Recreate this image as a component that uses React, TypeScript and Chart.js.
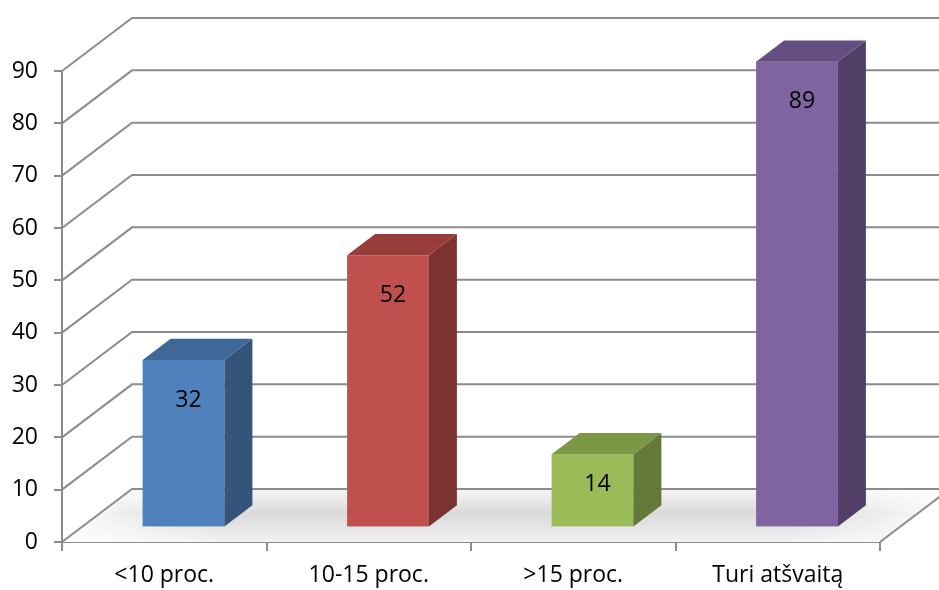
import React, { useEffect, useRef } from "react";
import { Chart, registerables } from "chart.js";
Chart.register(...registerables);

const categories = ["<10 proc.", "10-15 proc.", ">15 proc.", "Turi atšvaitą"];
const values = [32, 52, 14, 89];
const frontColors = ["#4F81BD", "#C0504D", "#9BBB59", "#8064A2"];
const topColors = ["#3F6898", "#973E3B", "#7C9847", "#654E82"];
const sideColors = ["#34547A", "#7B3230", "#64793A", "#513F68"];
const yMin = 0;
const yMax = 90;
const yStep = 10;

const DX = 70;
const DY = -53;
const BAR_FRONT = 0.275;
const BAR_DEPTH = 0.4;
const FONT = "'Open Sans', 'Noto Sans', sans-serif";
const FONT_SIZE = 23;
const GRID = "#8c8c8c";

const threeD = {
  id: "threeD",
  beforeDatasetsDraw(chart: any) {
    const { ctx, chartArea, scales } = chart;
    const y = scales.y;
    const L = chartArea.left;
    const R = chartArea.right;
    const y0 = y.getPixelForValue(0);
    ctx.save();
    const g = ctx.createLinearGradient(0, y0 + DY, 0, y0);
    g.addColorStop(0, "#f6f6f6");
    g.addColorStop(0.45, "#dadada");
    g.addColorStop(0.8, "#e8e8e8");
    g.addColorStop(1, "#f4f4f4");
    ctx.fillStyle = g;
    ctx.beginPath();
    ctx.moveTo(L, y0);
    ctx.lineTo(R, y0);
    ctx.lineTo(R + DX, y0 + DY);
    ctx.lineTo(L + DX, y0 + DY);
    ctx.closePath();
    ctx.fill();
    const gl = ctx.createLinearGradient(L, 0, L + 160, 0);
    gl.addColorStop(0, "rgba(255,255,255,0.9)");
    gl.addColorStop(1, "rgba(255,255,255,0)");
    ctx.fillStyle = gl;
    ctx.fill();
    const gr = ctx.createLinearGradient(R + DX, 0, R - 90, 0);
    gr.addColorStop(0, "rgba(255,255,255,0.9)");
    gr.addColorStop(1, "rgba(255,255,255,0)");
    ctx.fillStyle = gr;
    ctx.fill();

    ctx.strokeStyle = GRID;
    ctx.lineWidth = 2;
    for (const t of y.ticks) {
      const py = y.getPixelForValue(t.value);
      ctx.beginPath();
      ctx.moveTo(L, py);
      ctx.lineTo(L + DX, py + DY);
      ctx.lineTo(chart.width, py + DY);
      ctx.stroke();
    }
    ctx.beginPath();
    ctx.moveTo(R, y0);
    ctx.lineTo(R + DX, y0 + DY);
    ctx.stroke();
    ctx.restore();
  },
  afterDatasetsDraw(chart: any) {
    const { ctx } = chart;
    const meta = chart.getDatasetMeta(0);
    const ox = BAR_FRONT * DX;
    const oy = BAR_FRONT * DY;
    const dx = BAR_DEPTH * DX;
    const dy = BAR_DEPTH * DY;
    ctx.save();
    meta.data.forEach((el: any, i: number) => {
      const p = el.getProps(["x", "y", "base", "width"], true);
      const x1 = p.x - p.width / 2 + ox;
      const x2 = p.x + p.width / 2 + ox;
      const top = p.y + oy;
      const bot = p.base + oy;
      ctx.fillStyle = frontColors[i];
      ctx.fillRect(x1, top, x2 - x1, bot - top);
      ctx.fillStyle = topColors[i];
      ctx.beginPath();
      ctx.moveTo(x1, top);
      ctx.lineTo(x2, top);
      ctx.lineTo(x2 + dx, top + dy);
      ctx.lineTo(x1 + dx, top + dy);
      ctx.closePath();
      ctx.fill();
      ctx.fillStyle = sideColors[i];
      ctx.beginPath();
      ctx.moveTo(x2, top);
      ctx.lineTo(x2 + dx, top + dy);
      ctx.lineTo(x2 + dx, bot + dy);
      ctx.lineTo(x2, bot);
      ctx.closePath();
      ctx.fill();
      const h = bot - top;
      const off = Math.min(40, h * 0.42);
      ctx.fillStyle = "#000";
      ctx.font = `${FONT_SIZE}px ${FONT}`;
      ctx.textAlign = "center";
      ctx.textBaseline = "middle";
      ctx.fillText(String(values[i]), (x1 + x2) / 2 + 5, top + off);
    });
    ctx.restore();
  },
};

export default function App() {
  const ref = useRef<HTMLCanvasElement | null>(null);
  useEffect(() => {
    if (!ref.current) return;
    const chart = new Chart(ref.current, {
      type: "bar",
      data: {
        labels: categories,
        datasets: [
          {
            data: values,
            backgroundColor: "rgba(0,0,0,0)",
            borderWidth: 0,
            categoryPercentage: 1,
            barPercentage: 0.4,
          },
        ],
      },
      options: {
        responsive: false,
        animation: false,
        devicePixelRatio: 1,
        events: [],
        layout: { padding: { top: 71, right: 59, left: 0, bottom: 0 } },
        plugins: { legend: { display: false }, tooltip: { enabled: false } },
        scales: {
          x: {
            afterFit: (s: any) => {
              s.height = 48;
            },
            grid: {
              display: true,
              drawOnChartArea: false,
              drawTicks: true,
              tickLength: 9,
              color: GRID,
              lineWidth: 2,
            },
            border: { display: true, color: GRID, width: 2 },
            ticks: {
              color: "#000",
              font: { family: FONT, size: FONT_SIZE },
              padding: 11,
              maxRotation: 0,
            },
          },
          y: {
            min: yMin,
            max: yMax,
            afterFit: (s: any) => {
              s.width = 62;
            },
            grid: {
              display: true,
              drawOnChartArea: false,
              drawTicks: true,
              tickLength: 8,
              color: GRID,
              lineWidth: 2,
            },
            border: { display: true, color: GRID, width: 2 },
            ticks: {
              stepSize: yStep,
              color: "#000",
              font: { family: FONT, size: FONT_SIZE },
              padding: 16,
            },
          },
        },
      },
      plugins: [threeD],
    });
    return () => chart.destroy();
  }, []);
  return (
    <div style={{ position: "fixed", left: 0, top: 0, width: 939, height: 590, background: "#fff" }}>
      <canvas ref={ref} width={939} height={590} />
    </div>
  );
}
